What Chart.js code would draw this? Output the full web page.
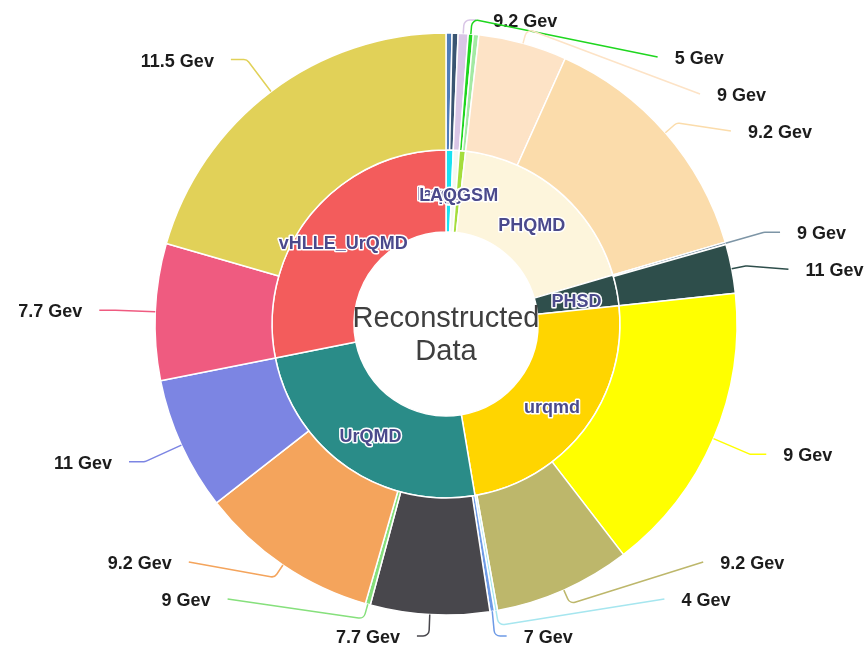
<!DOCTYPE html>
<html>
<head>
<meta charset="utf-8">
<title>Reconstructed Data</title>
<script src="https://cdn.jsdelivr.net/npm/chart.js@4.4.1/dist/chart.umd.min.js"></script>
<style>
  html, body { margin: 0; padding: 0; background: #ffffff; }
  #wrap { position: relative; width: 866px; height: 646px; }
</style>
</head>
<body>
<div id="wrap"><canvas id="chart"></canvas></div>
<script>
// Inner ring: generator models
const models = ['laqgsm', 'Laqgsm', 'LAQGSM', 'PHQMD', 'PHSD', 'urqmd', 'UrQMD', 'vHLLE_UrQMD'];
const modelColors = ['#19e1f2', '#f6f8f1', '#a5dd3c', '#fdf5dc', '#2f4f4c', '#ffd500', '#2a8c88', '#f35c5c'];

// Outer ring: collision energies, each belonging to a model (index into models)
const energyModel  = [0, 0, 1, 2, 2, 3, 3, 4, 4, 5, 5, 5, 6, 6, 6, 6, 6, 7, 7];
const energyLabels = ['9 Gev', '11 Gev', '9.2 Gev', '5 Gev', '4 Gev', '9 Gev', '9.2 Gev', '9 Gev', '11 Gev',
                      '9 Gev', '9.2 Gev', '4 Gev', '7 Gev', '7.7 Gev', '9 Gev', '9.2 Gev', '11 Gev', '7.7 Gev', '11.5 Gev'];
const eventCounts  = [12, 12, 20, 10, 11, 177, 495, 5, 98, 585, 274, 6, 9, 238, 10, 360, 267, 273, 740];
const energyColors = ['#4f7db9', '#3a5572', '#d9c6e6', '#1fd61f', '#a3eaa3', '#fde3c6', '#fbdcab', '#7d95a6', '#2e4e4b',
                      '#ffff00', '#bdb76b', '#a6e6ef', '#6d9ae6', '#48474c', '#86e07c', '#f4a45c', '#7c85e3', '#ef5b80', '#e1d158'];
const labelShown   = [false, false, true, true, false, true, true, true, true, true, true, true, true, true, true, true, true, true, true];

const centerTitle = ['Reconstructed', 'Data'];

// model totals = sum of their energies
const modelCounts = models.map((_, m) =>
  eventCounts.reduce((s, v, i) => s + (energyModel[i] === m ? v : 0), 0));

const FONT = '"Liberation Sans", Arial, sans-serif';

// Leader-line geometry for the outer labels
const LEN1 = 40, LEN1_SHIFT = 15, LEN2 = 16, LEN2_EDGE = 12, DIST = 17, GAP = 37;

const sliceLabels = {
  id: 'sliceLabels',
  afterDatasetsDraw(chart) {
    const ctx = chart.ctx;
    const outer = chart.getDatasetMeta(0).data;
    const inner = chart.getDatasetMeta(1).data;
    const cx = outer[0].x, cy = outer[0].y, R = outer[0].outerRadius;
    const rA = R + LEN1;
    const top = 20, bottom = chart.height - 10;

    ctx.save();

    // centre title
    ctx.fillStyle = '#3f3f3f';
    ctx.font = '29px ' + FONT;
    ctx.textAlign = 'center';
    ctx.textBaseline = 'alphabetic';
    ctx.fillText(centerTitle[0], cx, cy + 3);
    ctx.fillText(centerTitle[1], cx, cy + 36);

    // model names inside the inner ring
    ctx.font = 'bold 18px ' + FONT;
    ctx.textBaseline = 'middle';
    ctx.lineJoin = 'round';
    inner.forEach((arc, i) => {
      const mid = (arc.startAngle + arc.endAngle) / 2;
      const r = (arc.innerRadius + arc.outerRadius) / 2;
      const x = cx + r * Math.cos(mid), y = cy + r * Math.sin(mid) + 4;
      ctx.lineWidth = 3;
      ctx.strokeStyle = '#ffffff';
      ctx.strokeText(models[i], x, y);
      ctx.fillStyle = '#4b4a8c';
      ctx.fillText(models[i], x, y);
    });

    // outer labels: natural positions, then de-overlap per side
    const items = [];
    outer.forEach((arc, i) => {
      if (!labelShown[i]) return;
      const mid = (arc.startAngle + arc.endAngle) / 2;
      const ux = Math.cos(mid), uy = Math.sin(mid);
      const side = ux >= 0 ? 1 : -1;
      const natY = cy + rA * uy;
      items.push({ i, ux, uy, side, natY, y: natY });
    });
    [1, -1].forEach(side => {
      const list = items.filter(it => it.side === side).sort((a, b) => a.natY - b.natY);
      let prev = -Infinity;
      list.forEach(it => { it.y = Math.max(it.natY, prev + GAP, top); prev = it.y; });
      let next = Infinity;
      for (let k = list.length - 1; k >= 0; k--) {
        const it = list[k];
        it.y = Math.min(it.y, next - GAP, bottom);
        next = it.y;
      }
    });

    ctx.font = 'bold 18px ' + FONT;
    items.forEach(it => {
      const color = energyColors[it.i];
      const p1 = { x: cx + R * it.ux, y: cy + R * it.uy };
      const shifted = Math.abs(it.y - it.natY) > 0.5;
      const atEdge = shifted && (Math.abs(it.y - top) < 0.5 || Math.abs(it.y - bottom) < 0.5);
      let pts;
      let textX;
      if (!shifted) {
        const p2 = { x: cx + rA * it.ux, y: it.natY };
        const p3 = { x: p2.x + it.side * LEN2, y: it.y };
        pts = [p1, p2, p3];
        textX = p3.x + it.side * DIST;
      } else if (atEdge) {
        const ex = cx + (R + LEN1_SHIFT) * it.ux;
        const p2 = { x: ex, y: it.y };
        const p3 = { x: ex + it.side * LEN2_EDGE, y: it.y };
        pts = [p1, p2, p3];
        textX = p3.x + it.side * DIST;
      } else {
        const p2 = { x: cx + (R + LEN1_SHIFT) * it.ux, y: cy + (R + LEN1_SHIFT) * it.uy };
        const rB = it.y < cy ? rA : rA * 1.05;
        const dy = it.y - cy;
        const ex = cx + it.side * rA * Math.sqrt(Math.max(0, 1 - (dy * dy) / (rB * rB)));
        const p3 = { x: ex + it.side * LEN2, y: it.y };
        pts = [p1, p2, p3];
        textX = p3.x + it.side * DIST;
      }
      ctx.beginPath();
      ctx.moveTo(pts[0].x, pts[0].y);
      ctx.arcTo(pts[1].x, pts[1].y, pts[2].x, pts[2].y, 6);
      ctx.lineTo(pts[2].x, pts[2].y);
      ctx.strokeStyle = color;
      ctx.lineWidth = 1.5;
      ctx.stroke();

      ctx.fillStyle = '#1c1c1c';
      ctx.textAlign = it.side > 0 ? 'left' : 'right';
      ctx.textBaseline = 'middle';
      ctx.fillText(energyLabels[it.i], textX, it.y + 2);
    });

    ctx.restore();
  }
};

new Chart(document.getElementById('chart'), {
  type: 'doughnut',
  data: {
    labels: energyLabels,
    datasets: [
      {
        label: 'Energy',
        data: eventCounts,
        backgroundColor: energyColors,
        borderColor: '#ffffff',
        borderWidth: 1.5,
        weight: 117
      },
      {
        label: 'Model',
        data: modelCounts,
        backgroundColor: modelColors,
        borderColor: '#ffffff',
        borderWidth: 1.5,
        weight: 82
      }
    ]
  },
  options: {
    responsive: true,
    maintainAspectRatio: false,
    animation: false,
    events: [],
    radius: 291,
    cutout: (92 / 291 * 100) + '%',
    layout: { padding: { left: 26, top: 2, right: 0, bottom: 0 } },
    plugins: {
      legend: { display: false },
      tooltip: { enabled: false }
    }
  },
  plugins: [sliceLabels]
});
</script>
</body>
</html>
